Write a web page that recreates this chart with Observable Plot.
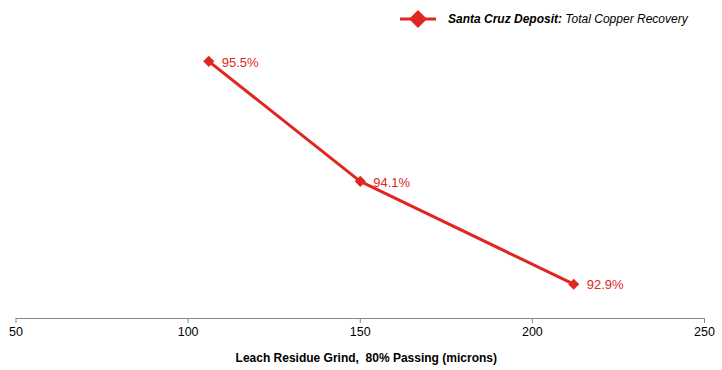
<!DOCTYPE html>
<html><head><meta charset="utf-8">
<script src="https://cdn.jsdelivr.net/npm/d3@7"></script>
<script src="https://cdn.jsdelivr.net/npm/@observablehq/plot@0.6"></script>
<style>
body{margin:0;background:#fff;font-family:"Liberation Sans",Arial,sans-serif;}
#wrap{position:relative;width:722px;height:370px;}
#legend{position:absolute;left:400px;top:9px;display:flex;align-items:center;font-size:12px;color:#000;}
#legend svg{margin-right:12px;}
</style>
</head><body>
<div id="wrap"><div id="chart"></div>
<div id="legend"><svg width="36" height="20"><line x1="0" y1="10" x2="36" y2="10" stroke="#e02621" stroke-width="3"/><path d="M18,1 L27,10 L18,19 L9,10 Z" fill="#e02621"/></svg><span><b><i>Santa Cruz Deposit:</i></b> <i>Total Copper Recovery</i></span></div>
</div>
<script>
const grind = [106, 150, 212];
const recovery = [95.5, 94.1, 92.9];
const labels = ["95.5%", "94.1%", "92.9%"];
const xTicks = [50, 100, 150, 200, 250];
const xTitle = "Leach Residue Grind,  80% Passing (microns)";
const seriesName = "Santa Cruz Deposit";
const data = grind.map((g, i) => ({grind: g, recovery: recovery[i], label: labels[i]}));
const red = "#e02621";
const chart = Plot.plot({
  width: 722, height: 370,
  marginLeft: 15.5, marginRight: 18, marginTop: 18, marginBottom: 52,
  style: {fontFamily: '"Liberation Sans", Arial, sans-serif', fontSize: "12px", background: "#fff"},
  x: {domain: [50, 250]},
  y: {domain: [92.5, 96], axis: null},
  marks: [
    Plot.ruleY([92.5], {stroke: "#888", strokeWidth: 1}),
    Plot.axisX({ticks: xTicks, tickSize: 5, stroke: "#888", tickPadding: 4, fontSize: 12.5, color: "#000", label: null}),
    Plot.text([xTitle], {frameAnchor: "bottom", dy: 43, dx: 6, fontWeight: "bold", fontSize: 12, fill: "#000"}),
    Plot.line(data, {x: "grind", y: "recovery", stroke: red, strokeWidth: 3}),
    Plot.dot(data, {x: "grind", y: "recovery", symbol: "diamond2", r: 5, fill: red, stroke: red, strokeWidth: 0}),
    Plot.text(data, {x: "grind", y: "recovery", text: "label", dx: 13, dy: 1, textAnchor: "start", fill: red, fontSize: 13})
  ]
});
document.getElementById("chart").appendChild(chart);
</script>
</body></html>
